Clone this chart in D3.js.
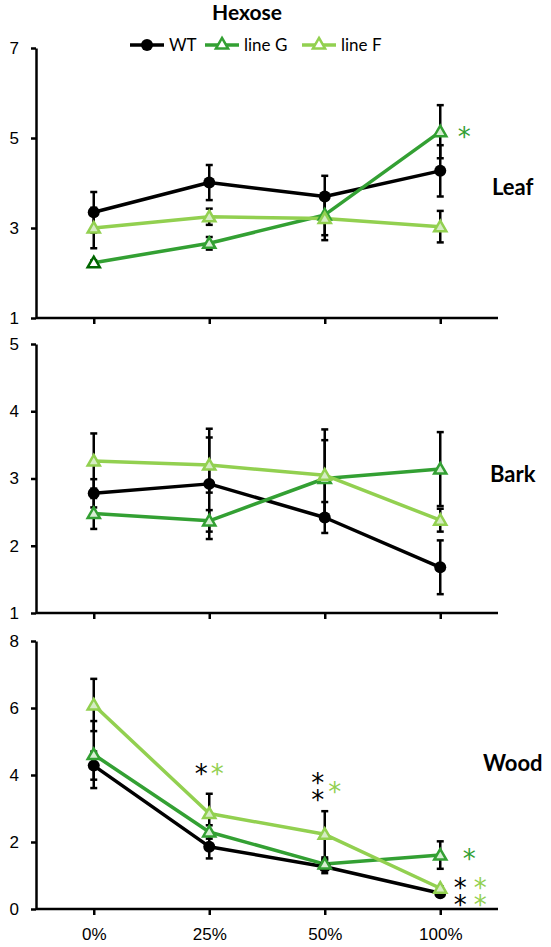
<!DOCTYPE html>
<html>
<head>
<meta charset="utf-8">
<script src="https://cdn.jsdelivr.net/npm/d3@7"></script>
<style>
  body { margin: 0; background: #fff; }
  svg { display: block; font-family: Lato, "Open Sans", sans-serif; }
</style>
</head>
<body>
<svg id="chart" width="551" height="947"></svg>
<script>
// categories (x axis)
const categories = ['0%', '25%', '50%', '100%'];

// series names
const seriesNames = ['WT', 'line G', 'line F'];

// Leaf
const leafWT = [3.35, 4.01, 3.70, 4.27];
const leafWTErr = [0.45, 0.39, 0.46, 0.57];
const leafG = [2.23, 2.66, 3.29, 5.14];
const leafGErr = [0.05, 0.14, 0.45, 0.59];
const leafF = [3.00, 3.25, 3.21, 3.03];
const leafFErr = [0.45, 0.18, 0.48, 0.35];

// Bark
const barkWT = [2.78, 2.92, 2.42, 1.68];
const barkWTErr = [0.21, 0.82, 0.23, 0.40];
const barkG = [2.48, 2.37, 3.00, 3.14];
const barkGErr = [0.23, 0.16, 0.57, 0.55];
const barkF = [3.26, 3.20, 3.05, 2.38];
const barkFErr = [0.41, 0.41, 0.68, 0.17];

// Wood
const woodWT = [4.28, 1.86, 1.26, 0.47];
const woodWTErr = [0.42, 0.35, 0.19, 0.05];
const woodG = [4.61, 2.30, 1.34, 1.61];
const woodGErr = [1.00, 0.20, 0.15, 0.41];
const woodF = [6.09, 2.85, 2.23, 0.62];
const woodFErr = [0.78, 0.59, 0.69, 0.05];

// tick labels per panel
const leafTicks = [1, 3, 5, 7];
const barkTicks = [1, 2, 3, 4, 5];
const woodTicks = [0, 2, 4, 6, 8];

// significance marks: category index, series colour index, value (data units), count stacked, x shift
const leafStars = [{cat: 3, s: 1, v: 5.16, n: 1, dx: 24}];
const barkStars = [];
const woodStars = [
    {cat: 1, s: 0, v: 4.24, n: 1, dx: -8},
    {cat: 1, s: 2, v: 4.24, n: 1, dx: 8},
    {cat: 2, s: 0, v: 3.70, n: 2, dx: -7},
    {cat: 2, s: 2, v: 3.70, n: 1, dx: 10},
    {cat: 3, s: 1, v: 1.70, n: 1, dx: 29},
    {cat: 3, s: 0, v: 0.57, n: 2, dx: 20},
    {cat: 3, s: 2, v: 0.57, n: 2, dx: 40}
];

const colors = ['#000000', '#33a033', '#92d050'];
const fills = ['#000000', '#d8eed4', '#d6ecc4'];

const svg = d3.select('#chart');

const x = d3.scalePoint()
    .domain(categories)
    .range([36, 498])
    .padding(0.5);

const panels = [
    {name: 'Leaf', domain: [1, 7], range: [318, 48], ticks: leafTicks, labelY: 187,
     series: [[leafWT, leafWTErr], [leafG, leafGErr], [leafF, leafFErr]], stars: leafStars, labelX: 492},
    {name: 'Bark', domain: [1, 5], range: [613, 344], ticks: barkTicks, labelY: 474,
     series: [[barkWT, barkWTErr], [barkG, barkGErr], [barkF, barkFErr]], stars: barkStars, labelX: 490},
    {name: 'Wood', domain: [0, 8], range: [909, 641], ticks: woodTicks, labelY: 763,
     series: [[woodWT, woodWTErr], [woodG, woodGErr], [woodF, woodFErr]], stars: woodStars, labelX: 483}
];

const tri = d3.symbol().type(d3.symbolTriangle).size(64);

panels.forEach((p, pi) => {
    const y = d3.scaleLinear().domain(p.domain).range(p.range);
    const g = svg.append('g');

    // y axis
    const yAxis = d3.axisLeft(y).tickValues(p.ticks).tickFormat(d3.format('d'))
        .tickSize(5).tickPadding(12).tickSizeOuter(0);
    g.append('g')
        .attr('transform', 'translate(36,0)')
        .call(yAxis)
        .call(a => a.select('.domain').attr('stroke-width', 2.5))
        .call(a => a.selectAll('.tick line').attr('stroke-width', 2.5))
        .call(a => a.selectAll('text').attr('font-size', 17).attr('fill', '#000'));

    // x axis
    const xAxis = d3.axisBottom(x).tickSize(6).tickSizeOuter(0)
        .tickFormat(pi === 2 ? (d => d) : () => '');
    g.append('g')
        .attr('transform', `translate(0,${p.range[0]})`)
        .call(xAxis)
        .call(a => a.select('.domain').attr('stroke-width', 2.5).attr('d', 'M36,0H498'))
        .call(a => a.selectAll('.tick line').attr('stroke-width', 2.5))
        .call(a => a.selectAll('text').attr('font-size', 17).attr('fill', '#000').attr('dy', '1.3em'));

    // error bars
    p.series.forEach(([vals, errs]) => {
        const eb = g.append('g').attr('stroke', '#000').attr('stroke-width', 2.5);
        vals.forEach((v, i) => {
            const cx = x(categories[i]);
            const y0 = y(v - errs[i]), y1 = y(v + errs[i]);
            eb.append('line').attr('x1', cx).attr('x2', cx).attr('y1', y0).attr('y2', y1);
            eb.append('line').attr('x1', cx - 3.5).attr('x2', cx + 3.5).attr('y1', y0).attr('y2', y0);
            eb.append('line').attr('x1', cx - 3.5).attr('x2', cx + 3.5).attr('y1', y1).attr('y2', y1);
        });
    });

    // lines and markers
    p.series.forEach(([vals], si) => {
        const line = d3.line().x((d, i) => x(categories[i])).y(d => y(d));
        g.append('path')
            .datum(vals)
            .attr('d', line)
            .attr('fill', 'none')
            .attr('stroke', colors[si])
            .attr('stroke-width', 3.5)
            .attr('stroke-linejoin', 'round');
    });
    p.series.forEach(([vals], si) => {
        vals.forEach((v, i) => {
            if (si === 0) {
                g.append('circle')
                    .attr('cx', x(categories[i])).attr('cy', y(v)).attr('r', 6)
                    .attr('fill', '#000');
            } else {
                // first line G marker in the leaf panel is darker with a white fill
                const odd = pi === 0 && si === 1 && i === 0;
                g.append('path')
                    .attr('d', tri)
                    .attr('transform', `translate(${x(categories[i])},${y(v) + 1})`)
                    .attr('fill', odd ? '#ffffff' : fills[si])
                    .attr('stroke', odd ? '#006600' : colors[si])
                    .attr('stroke-width', 2.5);
            }
        });
    });

    // stars (stacked ones share one text element)
    const stars = g.selectAll('text.star')
        .data(p.stars)
        .join('text')
        .attr('class', 'star')
        .attr('text-anchor', 'middle')
        .attr('font-size', 26)
        .attr('font-family', 'DejaVu Sans')
        .attr('fill', d => colors[d.s]);
    stars.each(function(d) {
        const t = d3.select(this);
        const cx = x(categories[d.cat]) + d.dx;
        const cy = y(d.v);
        const gap = 17;
        for (let k = 0; k < d.n; k++) {
            t.append('tspan')
                .attr('x', cx)
                .attr('y', cy + (k - (d.n - 1) / 2) * gap)
                .attr('dy', '0.6em')
                .text('*');
        }
    });

    // panel label
    g.append('text')
        .attr('x', p.labelX)
        .attr('y', p.labelY)
        .attr('dy', '0.35em')
        .attr('font-size', 22)
        .attr('font-weight', 'bold')
        .text(p.name);
});

// title
svg.append('text')
    .attr('x', 247).attr('y', 20)
    .attr('text-anchor', 'middle')
    .attr('font-size', 21)
    .attr('font-weight', 'bold')
    .text('Hexose');

// legend
const legendX = [130, 205, 302];
const legend = svg.append('g');
seriesNames.forEach((n, i) => {
    const lx = legendX[i];
    legend.append('line')
        .attr('x1', lx).attr('x2', lx + 34).attr('y1', 45).attr('y2', 45)
        .attr('stroke', colors[i]).attr('stroke-width', 3.5);
    if (i === 0) {
        legend.append('circle').attr('cx', lx + 17).attr('cy', 45).attr('r', 6).attr('fill', '#000');
    } else {
        legend.append('path').attr('d', tri)
            .attr('transform', `translate(${lx + 17},45)`)
            .attr('fill', '#ffffff').attr('stroke', colors[i]).attr('stroke-width', 2.5);
    }
    legend.append('text')
        .attr('x', lx + 39).attr('y', 45).attr('dy', '0.35em')
        .attr('font-size', 17)
        .text(n);
});
</script>
</body>
</html>
